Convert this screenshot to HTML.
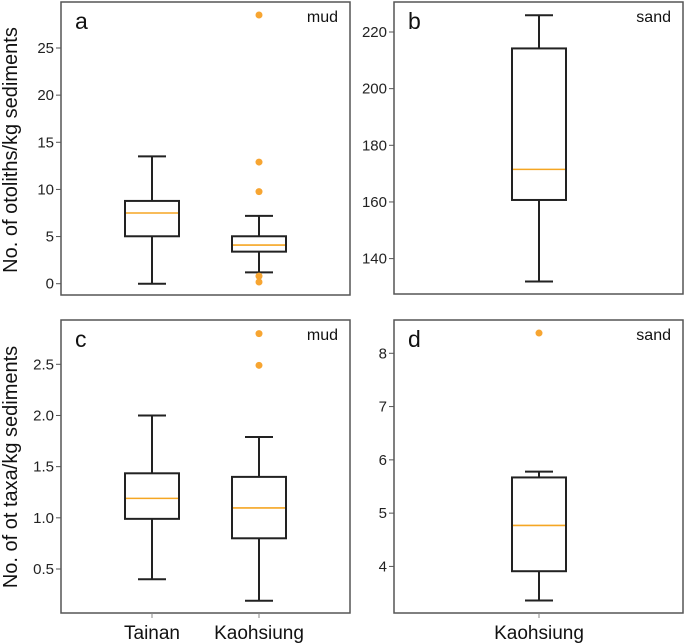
<!DOCTYPE html>
<html><head><meta charset="utf-8"><style>body{margin:0;background:#fff}svg{display:block;font-family:"Liberation Sans",Arial,sans-serif}</style></head>
<body>
<svg id="c" width="685" height="643" viewBox="0 0 685 643"></svg>
<script>
// Panel data: [q1, median, q3, whiskerLow, whiskerHigh]
const catsMud = ["Tainan","Kaohsiung"];
const catsSand = ["Kaohsiung"];
const aTainan = [5.03, 7.5, 8.78, 0, 13.5];
const aKaoh = [3.4, 4.1, 5.03, 1.2, 7.2];
const aKaohOut = [28.5, 12.9, 9.77, 0.8, 0.18];
const bKaoh = [160.7, 171.5, 214.2, 131.9, 225.9];
const bKaohOut = [];
const cTainan = [0.99, 1.19, 1.435, 0.4, 2.0];
const cKaoh = [0.80, 1.097, 1.40, 0.19, 1.79];
const cKaohOut = [2.80, 2.49];
const dKaoh = [3.91, 4.77, 5.67, 3.36, 5.78];
const dKaohOut = [8.38];
const aTicks = [0,5,10,15,20,25];
const bTicks = [140,160,180,200,220];
const cTicks = ["0.5","1.0","1.5","2.0","2.5"];
const dTicks = [4,5,6,7,8];

const svg = document.getElementById('c');
const NS = 'http://www.w3.org/2000/svg';
function mk(tag, at, parent){const e=document.createElementNS(NS,tag);for(const k in at)e.setAttribute(k,at[k]);(parent||svg).appendChild(e);return e;}

function panel(opt){
  const g = mk('g',{});
  
  
  const {x0,x1,y0,y1,vLo,vHi} = opt;
  const y = v => y1 - (v - vLo)/(vHi - vLo)*(y1 - y0);
  const fr = mk('rect',{x:x0,y:y0,width:x1-x0,height:y1-y0,fill:'none',stroke:'#555','stroke-width':1.5},g);
  
  
  opt.ticks.forEach(t=>{
    const v=parseFloat(t), yy=y(v);
    const tl=mk('line',{x1:x0-5,x2:x0,y1:yy,y2:yy,stroke:'#555','stroke-width':1},g);
    
    
    const tx=mk('text',{x:x0-7,y:yy+5,'text-anchor':'end','font-size':15,fill:'#222'},g);
    tx.textContent=t;
    
    
  });
  opt.series.forEach((s,i)=>{
    const cx=opt.centers[i], hw=27, cw=14;
    const [q1,med,q3,wl,wh]=s.box;
    const bg=mk('g',{},g);
    
    
    mk('line',{x1:cx,x2:cx,y1:y(wh),y2:y(q3),stroke:'#222','stroke-width':2},bg);
    mk('line',{x1:cx,x2:cx,y1:y(q1),y2:y(wl),stroke:'#222','stroke-width':2},bg);
    mk('line',{x1:cx-cw,x2:cx+cw,y1:y(wh),y2:y(wh),stroke:'#222','stroke-width':2},bg);
    mk('line',{x1:cx-cw,x2:cx+cw,y1:y(wl),y2:y(wl),stroke:'#222','stroke-width':2},bg);
    mk('rect',{x:cx-hw,y:y(q3),width:2*hw,height:y(q1)-y(q3),fill:'#fff',stroke:'#222','stroke-width':2},bg);
    mk('line',{x1:cx-hw+1,x2:cx+hw-1,y1:y(med),y2:y(med),stroke:'#f5a623','stroke-width':1.6},bg);
    s.out.forEach(o=>{
      const c=mk('circle',{cx:cx,cy:y(o),r:3.5,fill:'#f7a531'},bg);
      
      
    });
    if(opt.xlabels){
      mk('line',{x1:cx,x2:cx,y1:y1,y2:y1+5,stroke:'#888','stroke-width':1},g);
      const xl=mk('text',{x:cx,y:y1+26,'text-anchor':'middle','font-size':19,fill:'#111'},g);
      xl.textContent=s.cat;
      
      
    }
  });
  const lt=mk('text',{x:x0+14,y:y0+27,'font-size':23,fill:'#111'},g);
  lt.textContent=opt.letter;
  
  
  const st=mk('text',{x:x1-12,y:y0+20,'text-anchor':'end','font-size':16,fill:'#111'},g);
  st.textContent=opt.sub;
  
  
}

panel({name:'panel-a',x0:61,x1:350,y0:2,y1:295,vLo:(283.7-295)/9.428,vHi:(283.7-2)/9.428,ticks:aTicks,centers:[152,259],
  series:[{cat:catsMud[0],box:aTainan,out:[]},{cat:catsMud[1],box:aKaoh,out:aKaohOut}],letter:'a',sub:'mud'});
panel({name:'panel-b',x0:394,x1:683,y0:2,y1:294,vLo:140-(294-258.6)/2.833,vHi:220+(32-2)/2.833,ticks:bTicks,centers:[539],
  series:[{cat:catsSand[0],box:bKaoh,out:bKaohOut}],letter:'b',sub:'sand'});
panel({name:'panel-c',x0:61,x1:350,y0:320,y1:613,vLo:0.5-(613-569)/102.35,vHi:2.5+(364.3-320)/102.35,ticks:cTicks,centers:[152,259],
  series:[{cat:catsMud[0],box:cTainan,out:[]},{cat:catsMud[1],box:cKaoh,out:cKaohOut}],letter:'c',sub:'mud',xlabels:true});
panel({name:'panel-d',x0:394,x1:683,y0:320,y1:613,vLo:4-(613-566.4)/53.3,vHi:8+(353.3-320)/53.3,ticks:dTicks,centers:[539],
  series:[{cat:catsSand[0],box:dKaoh,out:dKaohOut}],letter:'d',sub:'sand',xlabels:true});

const ya=mk('text',{x:0,y:0,'text-anchor':'middle','font-size':20,fill:'#111',transform:'translate(17,150) rotate(-90)'});
ya.textContent='No. of otoliths/kg sediments';


const yc=mk('text',{x:0,y:0,'text-anchor':'middle','font-size':20,fill:'#111',transform:'translate(17,467) rotate(-90)'});
yc.textContent='No. of ot taxa/kg sediments';


</script>
</body></html>
